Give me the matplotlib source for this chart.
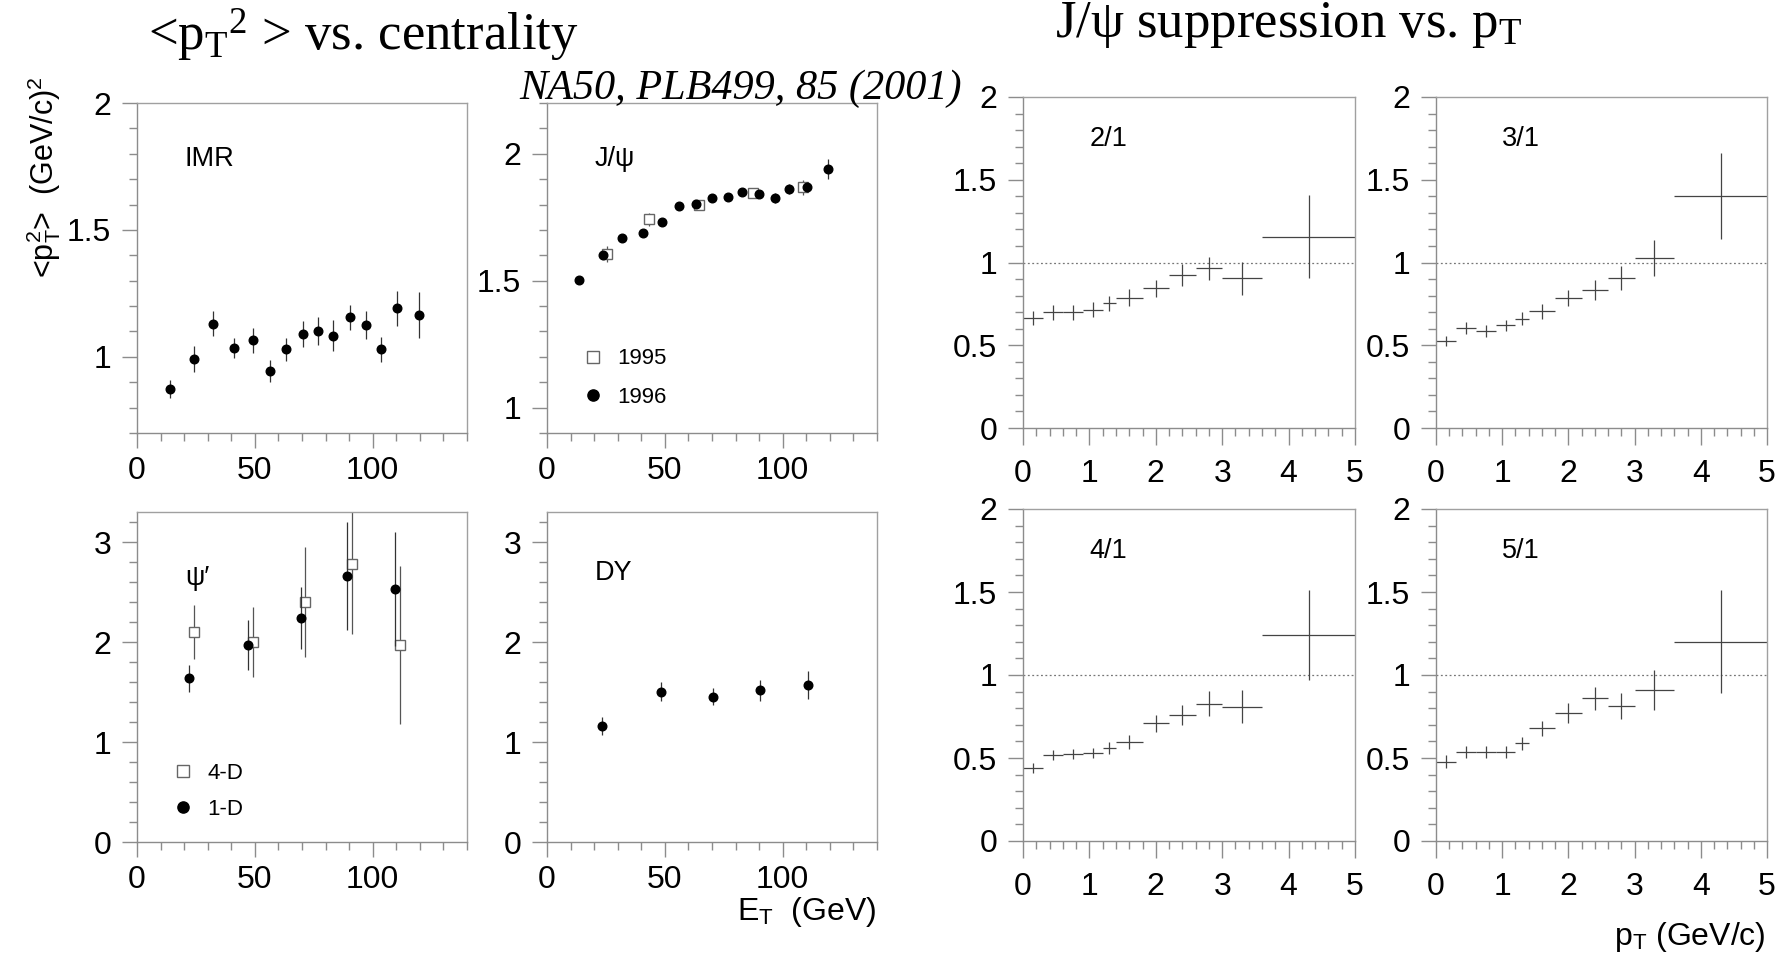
import matplotlib
matplotlib.use('Agg')
import matplotlib.pyplot as plt
import numpy as np
from matplotlib.ticker import MultipleLocator, FormatStrFormatter

plt.rcParams['font.family'] = ['Liberation Sans', 'DejaVu Sans']
plt.rcParams['mathtext.fontset'] = 'custom'
plt.rcParams['mathtext.rm'] = 'Liberation Serif'
plt.rcParams['mathtext.it'] = 'Liberation Serif:italic'
plt.rcParams['mathtext.sf'] = 'Liberation Sans'

# ---- <pT^2> vs E_T (NA50) ----
imr_et  = [14.2, 24.3, 32.2, 41.0, 49.2, 56.4, 63.0, 70.4, 76.9, 83.2, 90.2, 97.2, 103.4, 110.3, 119.5]
imr_pt2 = [0.874, 0.991, 1.131, 1.036, 1.065, 0.944, 1.029, 1.090, 1.103, 1.084, 1.156, 1.125, 1.029, 1.191, 1.165]
imr_err = [0.035, 0.05, 0.05, 0.04, 0.05, 0.045, 0.045, 0.05, 0.055, 0.06, 0.05, 0.055, 0.05, 0.07, 0.09]

jpsi96_et  = [13.6, 23.8, 31.7, 40.7, 48.9, 55.9, 63.0, 69.9, 76.6, 82.9, 90.0, 96.7, 102.8, 110.2, 119.0]
jpsi96_pt2 = [1.503, 1.601, 1.667, 1.689, 1.732, 1.796, 1.803, 1.825, 1.828, 1.851, 1.843, 1.825, 1.862, 1.868, 1.941]
jpsi96_err = [0.01, 0.015, 0.012, 0.012, 0.012, 0.015, 0.015, 0.015, 0.015, 0.015, 0.015, 0.02, 0.02, 0.02, 0.04]
jpsi95_et  = [25.6, 43.2, 64.6, 87.3, 108.5]
jpsi95_pt2 = [1.605, 1.742, 1.800, 1.845, 1.868]
jpsi95_err = [0.03, 0.025, 0.012, 0.02, 0.03]

psi1d_et  = [22.0, 47.2, 69.4, 89.3, 109.6]
psi1d_pt2 = [1.637, 1.967, 2.24, 2.66, 2.533]
psi1d_err = [0.133, 0.25, 0.31, 0.54, 0.57]
psi4d_et  = [24.3, 49.2, 71.3, 91.4, 111.4]
psi4d_pt2 = [2.097, 1.997, 2.403, 2.783, 1.967]
psi4d_err = [0.27, 0.35, 0.55, 0.7, 0.79]

dy_et  = [23.4, 48.4, 70.5, 90.5, 110.6]
dy_pt2 = [1.157, 1.503, 1.453, 1.517, 1.57]
dy_err = [0.09, 0.095, 0.087, 0.107, 0.137]

# ---- J/psi suppression ratio vs pT ----
pt_edges = np.array([0.0, 0.3, 0.6, 0.9, 1.2, 1.4, 1.8, 2.2, 2.6, 3.0, 3.6, 5.0])
ratio_labels = ['2/1', '3/1', '4/1', '5/1']
r21 = [0.663, 0.700, 0.700, 0.714, 0.754, 0.788, 0.844, 0.925, 0.965, 0.905, 1.156]
e21 = [0.043, 0.045, 0.045, 0.045, 0.045, 0.05, 0.05, 0.065, 0.07, 0.10, 0.25]
r31 = [0.524, 0.604, 0.586, 0.620, 0.661, 0.705, 0.785, 0.832, 0.906, 1.027, 1.404]
e31 = [0.03, 0.035, 0.035, 0.035, 0.04, 0.045, 0.05, 0.06, 0.07, 0.11, 0.26]
r41 = [0.442, 0.519, 0.523, 0.529, 0.559, 0.597, 0.708, 0.758, 0.826, 0.810, 1.242]
e41 = [0.03, 0.03, 0.03, 0.03, 0.035, 0.04, 0.05, 0.06, 0.075, 0.10, 0.27]
r51 = [0.478, 0.535, 0.535, 0.535, 0.589, 0.680, 0.770, 0.860, 0.814, 0.910, 1.200]
e51 = [0.04, 0.035, 0.035, 0.035, 0.04, 0.045, 0.06, 0.07, 0.08, 0.12, 0.31]

W, H = 1788, 956
fig = plt.figure(figsize=(W / 100, H / 100), dpi=100)

frame_col = '#8c8c8c'
tick_fs = 23


def px_axes(left, top, right, bottom):
    return fig.add_axes([left / W, 1 - bottom / H, (right - left) / W, (bottom - top) / H])


def style(ax, xlim, ylim, xmaj, xmin, ymaj, ymin, xpad=6):
    ax.set_xlim(*xlim)
    ax.set_ylim(*ylim)
    ax.xaxis.set_major_locator(MultipleLocator(xmaj))
    ax.xaxis.set_minor_locator(MultipleLocator(xmin))
    ax.yaxis.set_major_locator(MultipleLocator(ymaj))
    ax.yaxis.set_minor_locator(MultipleLocator(ymin))
    ax.xaxis.set_major_formatter(FormatStrFormatter('%g'))
    ax.yaxis.set_major_formatter(FormatStrFormatter('%g'))
    ax.tick_params(which='both', direction='out', color=frame_col, width=1.0,
                   top=False, right=False, labelsize=tick_fs)
    ax.tick_params(which='major', length=10.5)
    ax.tick_params(which='minor', length=5.5)
    ax.tick_params(axis='x', which='major', pad=xpad)
    ax.tick_params(axis='y', which='major', pad=8)
    for s in ax.spines.values():
        s.set_color('#a0a0a0')
        s.set_linewidth(1.0)
    ax.spines['left'].set_color(frame_col)
    ax.spines['bottom'].set_color(frame_col)


def tag(ax, s, x=0.145, y=0.83, fs=19.5):
    ax.text(x, y, s, transform=ax.transAxes, fontsize=fs, va='center', ha='left')


def points(ax, x, y, e, filled=True):
    if filled:
        return ax.errorbar(x, y, yerr=e, fmt='o', ms=6.2, color='black', ecolor='#333333',
                           elinewidth=0.9, capsize=0, zorder=3)
    return ax.errorbar(x, y, yerr=e, fmt='s', ms=6.5, mfc='white', mec='#666666', mew=1.0,
                       ecolor='#555555', elinewidth=0.9, capsize=0, zorder=2)


def leg(ax, handles, labels, y0, spacing):
    ax.legend(handles, labels, loc='lower left', bbox_to_anchor=(0.105, y0),
              frameon=False, fontsize=16, handlelength=1.0, handletextpad=0.6,
              labelspacing=spacing, borderpad=0, borderaxespad=0, markerscale=1.3)


# IMR
ax = px_axes(137, 103, 467, 433)
style(ax, (0, 140), (0.7, 2.0), 50, 10, 0.5, 0.1)
points(ax, imr_et, imr_pt2, imr_err)
tag(ax, 'IMR')

# J/psi
ax = px_axes(547, 103, 877, 433)
style(ax, (0, 140), (0.9, 2.2), 50, 10, 0.5, 0.1)
sq = points(ax, jpsi95_et, jpsi95_pt2, jpsi95_err, filled=False)
ci = points(ax, jpsi96_et, jpsi96_pt2, jpsi96_err)
tag(ax, 'J/\u03c8')
leg(ax, [sq[0], ci[0]], ['1995', '1996'], 0.075, 0.8)

# psi'
ax = px_axes(137, 512, 467, 842)
style(ax, (0, 140), (0, 3.3), 50, 10, 1, 0.2)
sq = points(ax, psi4d_et, psi4d_pt2, psi4d_err, filled=False)
ci = points(ax, psi1d_et, psi1d_pt2, psi1d_err)
tag(ax, '\u03c8\u2032', y=0.8)
leg(ax, [sq[0], ci[0]], ['4-D', '1-D'], 0.068, 0.65)

# DY
ax = px_axes(547, 512, 877, 842)
style(ax, (0, 140), (0, 3.3), 50, 10, 1, 0.2)
points(ax, dy_et, dy_pt2, dy_err)
tag(ax, 'DY', y=0.815)

# ratio panels
centers = 0.5 * (pt_edges[1:] + pt_edges[:-1])
halfw = 0.5 * np.diff(pt_edges)
boxes = [(1023, 97, 1355, 428), (1436, 97, 1767, 428),
         (1023, 509, 1355, 841), (1436, 509, 1767, 841)]
for box, lab, r, e in zip(boxes, ratio_labels, [r21, r31, r41, r51], [e21, e31, e41, e51]):
    ax = px_axes(*box)
    style(ax, (0, 5), (0, 2), 1, 0.2, 0.5, 0.1, xpad=10)
    ax.tick_params(axis='x', which='major', length=12)
    ax.axhline(1.0, color='#777777', lw=0.9, ls=(0, (1.5, 2)), zorder=1)
    ax.errorbar(centers, r, xerr=halfw, yerr=e, fmt='none', ecolor='#444444',
                elinewidth=0.9, capsize=0)
    tag(ax, lab, x=0.2, y=0.873)

# axis titles
fig.text(44 / W, 1 - 76 / H, '<p$_\\mathsf{T}^\\mathsf{2}$>  (GeV/c)$^\\mathsf{2}$',
         rotation=90, ha='center', va='top', fontsize=22)
fig.text(876 / W, 1 - 912 / H, 'E$_\\mathsf{T}$  (GeV)', ha='right', va='center', fontsize=23)
fig.text(1766 / W, 1 - 937 / H, 'p$_\\mathsf{T}$ (GeV/c)', ha='right', va='center', fontsize=23)

# slide titles
fig.text(148 / W, 1 - 51 / H, '<p$_\\mathrm{T}$$^\\mathrm{2}$ > vs. centrality',
         family='Liberation Serif', fontsize=38, va='baseline', ha='left')
fig.text(1055 / W, 1 - 37 / H, 'J/\u03c8 suppression vs. p$_\\mathrm{T}$',
         family='Liberation Serif', fontsize=38, va='baseline', ha='left')
fig.text(519 / W, 1 - 99 / H, 'NA50, PLB499, 85 (2001)',
         family='Liberation Serif', style='italic', fontsize=30.4, va='baseline', ha='left')

fig.savefig('out.png', dpi=100, facecolor='white')
